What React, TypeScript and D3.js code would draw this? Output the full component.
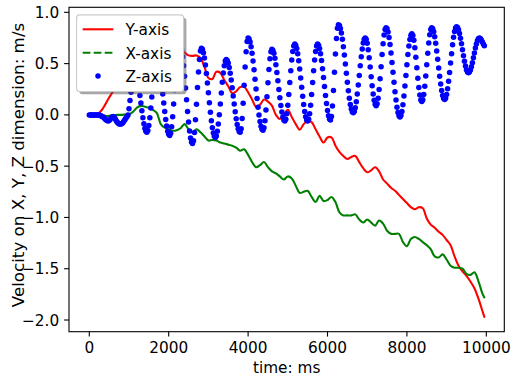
import React from 'react';
import * as d3 from 'd3';

const W = 512;
const H = 381;
const PLOT = { left: 69, right: 504.3, top: 7.3, bottom: 331.7 };

// sampling grids in ms
const zTimes: number[] = d3.range(0, 9951, 25);
const lineTimes: number[] = [...d3.range(0, 9901, 100), 9950];

// Z-axis velocity (blue dots), one value every 25 ms
const zValues: number[] = [
  0, 0, 0, 0, 0, 0, 0, 0, 0, 0, 0, -0.005, -0.01, -0.015, -0.02, -0.03, -0.04, -0.05, -0.055, -0.06,
  -0.055, -0.045, -0.03, -0.02, -0.015, -0.02, -0.035, -0.055, -0.07, -0.08, -0.088, -0.09, -0.09, -0.085, -0.075, -0.06, -0.045, -0.03, -0.015, 0.0,
  0.06, 0.14, 0.22, 0.3, 0.36, 0.39, 0.4, 0.39, 0.362, 0.317, 0.258, 0.189, 0.115, 0.041, -0.028, -0.087, -0.132, -0.16, -0.17, -0.153,
  -0.104, -0.028, 0.068, 0.175, 0.282, 0.378, 0.454, 0.503, 0.52, 0.509, 0.479, 0.429, 0.364, 0.287, 0.203, 0.117, 0.033, -0.044, -0.109, -0.159,
  -0.189, -0.2, -0.179, -0.115, -0.017, 0.107, 0.245, 0.383, 0.507, 0.605, 0.669, 0.69, 0.675, 0.635, 0.568, 0.48, 0.377, 0.263, 0.147, 0.033,
  -0.07, -0.158, -0.225, -0.265, -0.28, -0.252, -0.171, -0.047, 0.104, 0.266, 0.418, 0.541, 0.622, 0.65, 0.639, 0.607, 0.555, 0.486, 0.404, 0.312,
  0.215, 0.118, 0.026, -0.056, -0.125, -0.177, -0.209, -0.22, -0.205, -0.16, -0.089, 0.002, 0.106, 0.214, 0.318, 0.409, 0.48, 0.525, 0.54, 0.531,
  0.505, 0.463, 0.407, 0.339, 0.264, 0.185, 0.106, 0.031, -0.037, -0.093, -0.135, -0.161, -0.17, -0.135, -0.036, 0.114, 0.29, 0.466, 0.616, 0.715,
  0.75, 0.74, 0.711, 0.664, 0.601, 0.525, 0.439, 0.347, 0.253, 0.16, 0.075, -0.002, -0.065, -0.111, -0.14, -0.15, -0.126, -0.058, 0.048, 0.176,
  0.314, 0.443, 0.548, 0.616, 0.64, 0.629, 0.6, 0.552, 0.489, 0.414, 0.332, 0.248, 0.166, 0.091, 0.028, -0.02, -0.05, -0.06, -0.042, 0.011,
  0.095, 0.199, 0.315, 0.431, 0.536, 0.619, 0.672, 0.69, 0.679, 0.647, 0.595, 0.528, 0.448, 0.36, 0.27, 0.182, 0.102, 0.034, -0.017, -0.049,
  -0.06, -0.042, 0.011, 0.095, 0.199, 0.315, 0.431, 0.536, 0.619, 0.672, 0.69, 0.679, 0.648, 0.597, 0.53, 0.451, 0.364, 0.276, 0.189, 0.11,
  0.043, -0.008, -0.039, -0.05, -0.015, 0.086, 0.237, 0.415, 0.593, 0.744, 0.845, 0.88, 0.871, 0.843, 0.798, 0.738, 0.665, 0.583, 0.495, 0.405,
  0.317, 0.235, 0.162, 0.102, 0.057, 0.029, 0.02, 0.032, 0.069, 0.127, 0.203, 0.291, 0.385, 0.479, 0.568, 0.643, 0.701, 0.738, 0.75, 0.737,
  0.698, 0.636, 0.557, 0.467, 0.373, 0.283, 0.204, 0.142, 0.103, 0.09, 0.108, 0.162, 0.247, 0.352, 0.47, 0.588, 0.693, 0.778, 0.832, 0.85,
  0.839, 0.807, 0.755, 0.686, 0.604, 0.512, 0.415, 0.318, 0.226, 0.144, 0.075, 0.023, -0.009, -0.02, -0.006, 0.034, 0.098, 0.183, 0.281, 0.385,
  0.489, 0.588, 0.672, 0.736, 0.776, 0.79, 0.774, 0.727, 0.654, 0.562, 0.46, 0.358, 0.266, 0.193, 0.146, 0.13, 0.147, 0.198, 0.278, 0.378,
  0.49, 0.602, 0.702, 0.782, 0.833, 0.85, 0.839, 0.81, 0.762, 0.699, 0.624, 0.542, 0.458, 0.376, 0.301, 0.238, 0.19, 0.16, 0.15, 0.162,
  0.198, 0.254, 0.328, 0.413, 0.505, 0.597, 0.683, 0.756, 0.812, 0.848, 0.86, 0.852, 0.83, 0.794, 0.747, 0.693, 0.635, 0.577, 0.522, 0.476,
  0.44, 0.418, 0.41, 0.417, 0.437, 0.469, 0.509, 0.556, 0.604, 0.651, 0.691, 0.723, 0.743, 0.75, 0.745, 0.73, 0.71, 0.69, 0.675,
];

// Y-axis velocity (red line), every 100 ms (+ last sample at 9950)
const yAxisValues: number[] = [
  0, 0, 0.005, 0.04, 0.1, 0.17, 0.23, 0.32, 0.42, 0.5,
  0.56, 0.6, 0.63, 0.64, 0.65, 0.66, 0.65, 0.66, 0.67, 0.66,
  0.65, 0.66, 0.65, 0.64, 0.61, 0.58, 0.575, 0.58, 0.555, 0.47,
  0.36, 0.35, 0.42, 0.41, 0.34, 0.28, 0.21, 0.23, 0.27, 0.275,
  0.22, 0.15, 0.08, 0.1, 0.15, 0.13, 0.09, 0, -0.04, 0,
  0.05, -0.02, -0.09, -0.145, -0.09, -0.06, -0.07, -0.14, -0.21, -0.27,
  -0.22, -0.22, -0.3, -0.36, -0.4, -0.43, -0.41, -0.4, -0.46, -0.52,
  -0.56, -0.54, -0.51, -0.55, -0.63, -0.67, -0.71, -0.74, -0.78, -0.82,
  -0.86, -0.9, -0.92, -0.9, -0.91, -1.01, -1.07, -1.1, -1.14, -1.17,
  -1.22, -1.27, -1.38, -1.47, -1.525, -1.57, -1.625, -1.69, -1.79, -1.91,
  -1.97,
];

// X-axis velocity (green line), every 100 ms (+ last sample at 9950)
const xAxisValues: number[] = [
  0, 0, 0, -0.01, -0.01, -0.01, -0.005, 0, 0, 0.003,
  0.007, 0.03, 0.07, 0.088, 0.08, 0.07, 0.05, 0.02, -0.09, -0.125,
  -0.14, -0.155, -0.15, -0.13, -0.09, -0.14, -0.175, -0.14, -0.17, -0.21,
  -0.25, -0.245, -0.25, -0.27, -0.28, -0.29, -0.3, -0.32, -0.35, -0.335,
  -0.39, -0.46, -0.51, -0.49, -0.46, -0.51, -0.55, -0.57, -0.6, -0.63,
  -0.6, -0.62, -0.69, -0.76, -0.75, -0.74, -0.8, -0.85, -0.79, -0.84,
  -0.83, -0.8, -0.85, -0.95, -0.98, -0.98, -0.98, -0.97, -1.02, -1.05,
  -1.02, -1.05, -1.08, -1.03, -1.06, -1.13, -1.16, -1.16, -1.16, -1.24,
  -1.28, -1.21, -1.19, -1.21, -1.24, -1.27, -1.31, -1.38, -1.39, -1.36,
  -1.41, -1.47, -1.49, -1.49, -1.5, -1.55, -1.56, -1.535, -1.62, -1.74,
  -1.78,
];

const xTicks: number[] = [0, 2000, 4000, 6000, 8000, 10000];
const yTicks: number[] = [-2.0, -1.5, -1.0, -0.5, 0.0, 0.5, 1.0];
const seriesNames: string[] = ['Y-axis', 'X-axis', 'Z-axis'];
const xLabel = 'time: ms';
const yLabel = 'Velocity on X, Y, Z dimension: m/s';

const RED = '#ff0000';
const GREEN = '#008000';
const BLUE = '#0000ff';
const FONT = 'DejaVu Sans, sans-serif';
const FS = 15.3;
const FS_YLABEL = 16.7;

const fmtY = (v: number) => {
  const s = v.toFixed(1);
  return s.startsWith('-') ? '\u2212' + s.slice(1) : s;
};

export default function App() {
  const x = d3.scaleLinear().domain([-511, 10453]).range([PLOT.left, PLOT.right]);
  const y = d3.scaleLinear().domain([-2.114, 1.049]).range([PLOT.bottom, PLOT.top]);

  const line = d3
    .line<[number, number]>()
    .x((d) => x(d[0]))
    .y((d) => y(d[1]))
    .curve(d3.curveCatmullRom);

  const redPts: [number, number][] = lineTimes.map((t, i) => [t, yAxisValues[i]]);
  const greenPts: [number, number][] = lineTimes.map((t, i) => [t, xAxisValues[i]]);
  const zPts: [number, number][] = zTimes.map((t, i) => [t, zValues[i]]);

  const tickLen = 4.9;
  const axisColor = '#000';

  // legend geometry
  const lg = { x: 76.6, y: 14.9, w: 107, h: 76.6 };
  const rowY = [29.3, 52.7, 76];
  const hx0 = 82.7;
  const hx1 = 113.3;
  const tx = 125.5;

  return (
    <svg
      width={W}
      height={H}
      style={{ position: 'absolute', left: 0, top: 0, background: '#fff' }}
      fontFamily={FONT}
    >
      <rect x={0} y={0} width={W} height={H} fill="#fff" />
      <defs>
        <clipPath id="plotclip">
          <rect x={PLOT.left} y={PLOT.top} width={PLOT.right - PLOT.left} height={PLOT.bottom - PLOT.top} />
        </clipPath>
      </defs>

      <g clipPath="url(#plotclip)">
        <path d={line(redPts) || ''} fill="none" stroke={RED} strokeWidth={2.08} strokeLinejoin="round" strokeLinecap="round" />
        <path d={line(greenPts) || ''} fill="none" stroke={GREEN} strokeWidth={2.08} strokeLinejoin="round" strokeLinecap="round" />
        {zPts.map((d, i) => (
          <circle key={i} cx={x(d[0])} cy={y(d[1])} r={2.75} fill={BLUE} />
        ))}
      </g>

      {/* frame */}
      <rect
        x={PLOT.left}
        y={PLOT.top}
        width={PLOT.right - PLOT.left}
        height={PLOT.bottom - PLOT.top}
        fill="none"
        stroke={axisColor}
        strokeWidth={1.1}
      />

      {/* x ticks */}
      {xTicks.map((t) => (
        <g key={'xt' + t}>
          <line x1={x(t)} x2={x(t)} y1={PLOT.bottom} y2={PLOT.bottom + tickLen} stroke={axisColor} strokeWidth={1.1} />
          <text x={x(t)} y={352.7} fontSize={FS} textAnchor="middle" fill="#000">
            {String(t)}
          </text>
        </g>
      ))}

      {/* y ticks */}
      {yTicks.map((t) => (
        <g key={'yt' + t}>
          <line x1={PLOT.left - tickLen} x2={PLOT.left} y1={y(t)} y2={y(t)} stroke={axisColor} strokeWidth={1.1} />
          <text x={PLOT.left - tickLen - 4.9} y={y(t) + 5.6} fontSize={FS} textAnchor="end" fill="#000">
            {fmtY(t)}
          </text>
        </g>
      ))}

      <text x={(PLOT.left + PLOT.right) / 2} y={373} fontSize={FS} textAnchor="middle" fill="#000">
        {xLabel}
      </text>
      <text
        transform={`translate(24, 165) rotate(-90)`}
        fontSize={FS_YLABEL}
        textAnchor="middle"
        fill="#000"
      >
        {yLabel}
      </text>

      {/* legend */}
      <rect x={lg.x + 2.8} y={lg.y + 2.8} width={lg.w} height={lg.h} rx={3} fill="#4d4d4d" opacity={0.5} />
      <rect x={lg.x} y={lg.y} width={lg.w} height={lg.h} rx={3} fill="#fff" stroke="#cccccc" strokeWidth={1.1} />
      <line x1={hx0} x2={hx1} y1={rowY[0]} y2={rowY[0]} stroke={RED} strokeWidth={2.08} />
      <line x1={hx0} x2={hx1} y1={rowY[1]} y2={rowY[1]} stroke={GREEN} strokeWidth={2.08} strokeDasharray="7.7,3.3" />
      <circle cx={(hx0 + hx1) / 2} cy={rowY[2]} r={2.75} fill={BLUE} />
      {seriesNames.map((n, i) => (
        <text key={n} x={tx} y={rowY[i] + 5.8} fontSize={FS} fill="#000">
          {n}
        </text>
      ))}
    </svg>
  );
}
